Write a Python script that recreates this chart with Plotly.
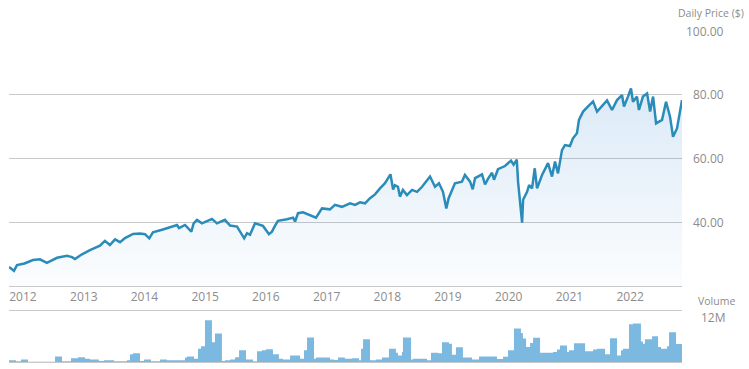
import plotly.graph_objects as go

# ---------------- DATA ----------------
price_dates = [
    "2011-10-09", "2011-10-25", "2011-11-08", "2011-11-26", "2012-01-10", "2012-03-01", "2012-04-12",
    "2012-05-24", "2012-07-24", "2012-09-22", "2012-10-22", "2012-11-09", "2012-12-21", "2013-02-07",
    "2013-04-08", "2013-05-08", "2013-06-07", "2013-07-08", "2013-08-07", "2013-09-06", "2013-10-24",
    "2013-12-05", "2014-01-04", "2014-01-30", "2014-02-21", "2014-04-22", "2014-07-16", "2014-07-28",
    "2014-09-02", "2014-10-10", "2014-10-24", "2014-11-13", "2014-12-13", "2015-02-11", "2015-03-13",
    "2015-04-30", "2015-05-31", "2015-07-12", "2015-08-24", "2015-09-10", "2015-09-28", "2015-10-28",
    "2015-11-27", "2015-12-15", "2016-01-20", "2016-02-07", "2016-02-25", "2016-03-14", "2016-05-07",
    "2016-06-13", "2016-06-25", "2016-07-13", "2016-08-12", "2016-09-23", "2016-10-29", "2016-12-04",
    "2017-01-21", "2017-02-20", "2017-04-03", "2017-05-22", "2017-06-21", "2017-07-21", "2017-08-20",
    "2017-09-19", "2017-10-19", "2017-11-18", "2017-12-18", "2018-01-20", "2018-02-05", "2018-02-16",
    "2018-03-06", "2018-03-18", "2018-04-05", "2018-04-29", "2018-05-30", "2018-06-29", "2018-07-29",
    "2018-09-15", "2018-10-15", "2018-11-08", "2018-12-02", "2018-12-22", "2019-01-05", "2019-02-12",
    "2019-03-26", "2019-04-13", "2019-05-14", "2019-05-30", "2019-06-13", "2019-07-25", "2019-08-12",
    "2019-09-01", "2019-09-23", "2019-10-05", "2019-10-29", "2019-12-10", "2020-01-15", "2020-01-31",
    "2020-02-19", "2020-02-27", "2020-03-09", "2020-03-16", "2020-03-22", "2020-03-28", "2020-04-21",
    "2020-05-03", "2020-05-21", "2020-06-06", "2020-06-20", "2020-07-20", "2020-08-07", "2020-08-25",
    "2020-09-18", "2020-10-06", "2020-10-24", "2020-11-17", "2020-12-05", "2021-01-04", "2021-01-22",
    "2021-02-15", "2021-02-27", "2021-03-24", "2021-04-23", "2021-05-23", "2021-06-16", "2021-07-16",
    "2021-08-15", "2021-09-14", "2021-10-14", "2021-11-13", "2021-11-25", "2021-12-19", "2022-01-06",
    "2022-01-18", "2022-02-11", "2022-02-23", "2022-03-19", "2022-04-13", "2022-05-01", "2022-05-19",
    "2022-06-06", "2022-07-12", "2022-08-05", "2022-08-29", "2022-09-16", "2022-10-10", "2022-10-28",
    "2022-11-09",
]
price_values = [
    25.9, 25.3, 24.7, 26.5, 27.0, 28.1, 28.3,
    27.2, 28.8, 29.4, 29.0, 28.4, 29.9, 31.2,
    32.6, 34.1, 32.8, 34.6, 33.7, 35.0, 36.3,
    36.4, 36.2, 34.9, 36.8, 37.7, 39.1, 38.1,
    39.1, 37.0, 39.6, 40.7, 39.6, 41.0, 39.6,
    40.7, 38.9, 38.6, 34.9, 36.5, 36.0, 39.6,
    39.2, 38.8, 36.2, 37.0, 38.8, 40.4, 40.9,
    41.4, 40.2, 42.8, 43.1, 42.2, 41.4, 44.3,
    44.0, 45.4, 44.8, 45.9, 45.4, 46.2, 45.9,
    47.5, 48.7, 50.6, 52.2, 55.0, 50.2, 51.6,
    51.1, 48.0, 50.1, 48.5, 50.1, 49.5, 51.1,
    54.3, 51.1, 52.2, 49.5, 44.3, 47.5, 52.2,
    52.7, 54.8, 52.7, 50.3, 53.8, 55.0, 51.8,
    53.8, 55.5, 53.3, 56.6, 57.6, 59.3, 58.0,
    59.6, 52.5, 46.0, 43.0, 39.8, 47.0, 49.5,
    51.6, 50.6, 56.9, 50.6, 54.8, 56.9, 58.5,
    54.3, 59.0, 55.3, 62.6, 64.2, 63.9, 66.3,
    67.9, 72.1, 74.7, 76.3, 77.9, 74.7, 76.3,
    78.2, 75.2, 78.3, 79.9, 76.3, 79.4, 82.0,
    77.8, 79.4, 75.2, 79.4, 80.4, 74.7, 79.4,
    71.0, 72.1, 77.8, 73.1, 66.8, 69.4, 75.2,
    78.3,
]

# volume (millions), step starts
volume_dates = [
    "2011-10-09", "2011-11-20", "2011-12-20", "2012-01-31", "2012-07-12", "2012-08-23", "2012-10-16",
    "2012-11-27", "2013-01-08", "2013-02-07", "2013-04-02", "2013-05-02", "2013-07-02", "2013-09-18",
    "2013-10-06", "2013-10-24", "2013-12-05", "2013-12-29", "2014-02-09", "2014-04-04", "2014-05-16",
    "2014-09-02", "2014-09-14", "2014-10-26", "2014-11-19", "2014-12-07", "2014-12-31", "2015-02-11",
    "2015-03-01", "2015-04-12", "2015-04-30", "2015-05-31", "2015-06-30", "2015-07-24", "2015-09-04",
    "2015-10-16", "2015-11-09", "2015-12-09", "2016-01-02", "2016-02-13", "2016-03-20", "2016-04-13",
    "2016-05-26", "2016-07-25", "2016-08-18", "2016-09-05", "2016-10-17", "2016-10-29", "2017-01-21",
    "2017-02-14", "2017-03-10", "2017-04-21", "2017-06-03", "2017-07-15", "2017-07-27", "2017-08-08",
    "2017-09-19", "2017-10-25", "2017-11-30", "2018-01-11", "2018-02-22", "2018-03-06", "2018-03-30",
    "2018-04-05", "2018-05-24", "2018-06-05", "2018-08-28", "2018-09-21", "2018-11-02", "2018-11-26",
    "2019-01-07", "2019-01-25", "2019-02-18", "2019-04-01", "2019-04-13", "2019-05-26", "2019-07-07",
    "2019-08-24", "2019-10-23", "2019-11-28", "2019-12-28", "2020-02-02", "2020-03-15", "2020-03-27",
    "2020-04-15", "2020-05-09", "2020-05-27", "2020-07-08", "2020-09-24", "2020-10-18", "2020-11-05",
    "2020-12-17", "2020-12-29", "2021-01-28", "2021-04-05", "2021-05-23", "2021-06-16", "2021-08-03",
    "2021-09-02", "2021-10-14", "2021-11-07", "2021-11-19", "2021-12-25", "2022-01-18", "2022-03-07",
    "2022-03-19", "2022-03-31", "2022-05-13", "2022-06-18", "2022-07-06", "2022-08-11", "2022-08-23",
    "2022-10-04", "2022-11-09",
]
volume_values = [
    0.45, 0.2, 0.7, 0.1, 1.5, 0.2, 1.0,
    1.3, 0.9, 0.7, 0.3, 0.45, 0.2, 0.45,
    2.1, 2.4, 0.3, 0.7, 0.2, 0.7, 0.45,
    1.2, 1.5, 0.9, 3.6, 4.3, 11.4, 5.4,
    7.8, 0.3, 0.45, 0.7, 1.3, 3.2, 0.7,
    0.2, 2.9, 3.2, 3.5, 2.1, 0.9, 0.7,
    1.8, 0.9, 3.2, 6.7, 0.9, 1.2, 0.7,
    0.55, 1.2, 0.9, 1.0, 0.45, 3.6, 6.2,
    0.45, 0.7, 1.2, 3.6, 2.5, 1.8, 2.7,
    6.7, 0.7, 0.9, 0.45, 2.5, 2.4, 5.4,
    5.0, 2.0, 4.0, 1.2, 1.2, 0.7, 1.5,
    1.5, 0.8, 1.4, 3.2, 9.1, 7.9, 6.4,
    4.1, 5.2, 6.6, 2.5, 2.7, 3.4, 4.5,
    2.7, 3.2, 5.1, 2.9, 3.4, 3.6, 2.1,
    6.5, 1.8, 3.2, 3.6, 10.3, 10.5, 5.6,
    5.0, 6.2, 7.0, 4.1, 3.6, 4.3, 8.1,
    4.9, 4.9,
]

year_ticks = ["2012-01-01", "2013-01-01", "2014-01-01", "2015-01-01", "2016-01-01", "2017-01-01",
              "2018-01-01", "2019-01-01", "2020-01-01", "2021-01-01", "2022-01-01"]
year_labels = ["2012", "2013", "2014", "2015", "2016", "2017", "2018", "2019", "2020", "2021", "2022"]
price_ticks = [40, 60, 80, 100]
price_tick_labels = ["40.00", "60.00", "80.00", "100.00"]
volume_tick = 12
volume_tick_label = "12M"
x_range = ["2011-10-09", "2022-11-09"]

# ---------------- STYLE ----------------
W, H = 749, 369
FONT = "Open Sans"
TXT = "#8c8c8c"
GRID = "#c8c8c8"
LINE = "#2b8cb9"
BAR = "#7cb9e1"

x_dom = [9 / W, 682 / W]
y_dom = [1 - 285.8 / H, 1 - 31 / H]
y2_dom = [1 - 362 / H, 1 - 311 / H]

fig = go.Figure()

fig.add_trace(go.Scatter(
    x=price_dates, y=price_values, mode="lines",
    line=dict(color=LINE, width=2.5),
    fill="tozeroy",
    fillcolor="rgba(60,140,210,0.1)",
    fillgradient=dict(type="vertical", start=20, stop=84,
                      colorscale=[[0, "rgba(60,140,210,0.02)"], [1, "rgba(60,140,210,0.19)"]]),
    xaxis="x", yaxis="y", hoverinfo="skip",
))

fig.add_trace(go.Scatter(
    x=volume_dates, y=volume_values, mode="lines",
    line=dict(color=BAR, width=0, shape="hv"),
    fill="tozeroy", fillcolor=BAR,
    xaxis="x2", yaxis="y2", hoverinfo="skip",
))

annotations = []
for v, t in zip(price_ticks, price_tick_labels):
    annotations.append(dict(x=726 / W, xref="paper", y=v, yref="y", text=t, showarrow=False,
                            xanchor="right", yanchor="middle",
                            font=dict(family=FONT, size=12, color=TXT)))
annotations.append(dict(x=746 / W, xref="paper", y=1 - 13 / H, yref="paper", text="Daily Price ($)",
                        showarrow=False, xanchor="right", yanchor="middle",
                        font=dict(family=FONT, size=10.5, color=TXT)))
annotations.append(dict(x=696 / W, xref="paper", y=1 - 301 / H, yref="paper", text="Volume",
                        showarrow=False, xanchor="left", yanchor="middle",
                        font=dict(family=FONT, size=10.5, color=TXT)))
annotations.append(dict(x=699 / W, xref="paper", y=volume_tick, yref="y2", text=volume_tick_label,
                        showarrow=False, xanchor="left", yanchor="middle",
                        font=dict(family=FONT, size=12, color=TXT)))

fig.update_layout(
    width=W, height=H,
    margin=dict(l=0, r=0, t=0, b=0),
    paper_bgcolor="white", plot_bgcolor="white",
    showlegend=False,
    font=dict(family=FONT, color=TXT),
    xaxis=dict(domain=x_dom, anchor="y", type="date", range=x_range,
               tickvals=year_ticks, ticktext=year_labels, ticks="",
               tickfont=dict(family=FONT, size=12, color=TXT),
               showgrid=False, showline=True, linecolor=GRID, linewidth=1, zeroline=False),
    yaxis=dict(domain=y_dom, anchor="x", range=[20, 100], side="right",
               tickvals=price_ticks, showticklabels=False, ticks="",
               showgrid=True, gridcolor=GRID, gridwidth=1, zeroline=False, showline=False),
    xaxis2=dict(domain=x_dom, anchor="y2", type="date", range=x_range, matches="x",
                showticklabels=False, ticks="", showgrid=False,
                showline=True, mirror=True, linecolor=GRID, linewidth=1, zeroline=False),
    yaxis2=dict(domain=y2_dom, anchor="x2", range=[0, 13.9], showticklabels=False, ticks="",
                showgrid=False, zeroline=False, showline=False),
    annotations=annotations,
)

fig.write_html(
    "out.html",
    config={"displayModeBar": False},
    post_script="document.body.style.margin='0';document.body.style.overflow='hidden';",
)
